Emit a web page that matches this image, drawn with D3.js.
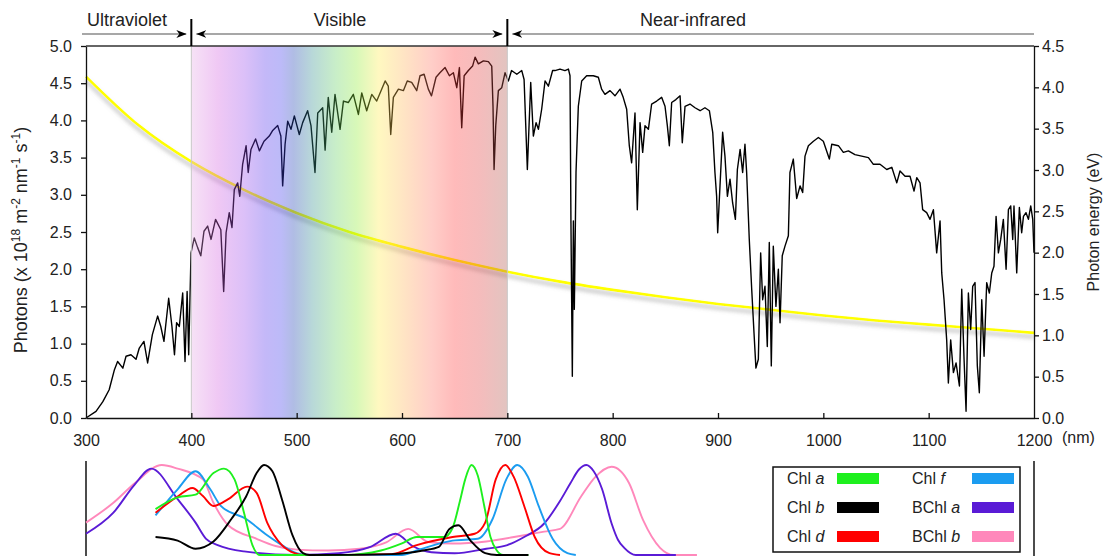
<!DOCTYPE html>
<html>
<head>
<meta charset="utf-8">
<script src="https://cdn.jsdelivr.net/npm/d3@7"></script>
<style>
    body { margin: 0; background: #fff; }
    svg { display: block; font-family: "Liberation Sans", Arial, sans-serif; }
    .tick text { font-size: 16px; fill: #222; }
</style>
</head>
<body>
<svg id="chart" width="1103" height="556"></svg>
<script>
/*global d3 */
// solar photon flux, [nm, photons x 1e18 m-2 nm-1 s-1]
var solarSpectrum = [[300,0],[309.5,0.09],[316,0.22],[322,0.38],[327,0.65],[330,0.76],[335,0.67],[338,0.83],[342.7,0.85],[347.5,0.79],[350.6,0.94],[355,1.03],[358.5,0.74],[363,1.12],[368,1.37],[371,1.23],[374,1.03],[378.5,1.61],[381.6,1.23],[384,0.85],[386,1.28],[388.6,1.23],[391.8,1.68],[394,0.76],[396,1.70],[397.5,0.85],[399.7,2.22],[402.8,2.42],[406,2.29],[409,2.18],[412,2.51],[415.5,2.58],[418.7,2.40],[423,2.67],[428,2.53],[430.7,1.70],[433,2.49],[436,2.76],[438.6,2.56],[440.8,3.07],[444,3.16],[446,2.98],[448.7,3.41],[452,3.66],[454,3.30],[456.6,3.61],[461,3.75],[464.6,3.59],[469,3.72],[474,3.79],[477,3.86],[482,3.93],[485,3.79],[486.7,3.12],[489,3.68],[491.5,3.99],[494.6,3.88],[497.8,4.06],[502.5,3.81],[505.7,3.97],[510.4,4.13],[513.6,3.93],[517.4,3.30],[520,4.10],[524.7,4.17],[527,3.6],[530,4.31],[533.3,3.84],[536.4,4.35],[541.2,3.88],[544.4,4.26],[549,4.24],[553.8,4.35],[558.6,4.08],[561.8,4.37],[566.5,4.13],[571.3,4.35],[576,4.26],[580.7,4.42],[584,4.53],[587,4.46],[589.3,3.81],[591.8,4.31],[596.6,4.42],[601.3,4.40],[605,4.53],[609.2,4.51],[614,4.40],[617.1,4.60],[621,4.62],[625,4.42],[628,4.33],[632.3,4.58],[636,4.64],[640.9,4.71],[645,4.60],[648.8,4.64],[652,4.44],[654.5,4.71],[656.7,3.90],[659,4.60],[663,4.67],[667,4.73],[669.4,4.85],[672.5,4.76],[677.3,4.80],[682,4.79],[685.2,4.73],[686.4,4.19],[687.4,3.34],[689,3.93],[691.5,4.40],[694.7,4.44],[697.8,4.64],[701,4.53],[704,4.67],[709,4.62],[713.7,4.67],[715.9,4.55],[719,3.34],[722.2,4.51],[724.7,3.79],[727.3,3.97],[729.5,3.88],[732.6,4.15],[735.8,4.53],[739,4.46],[743,4.67],[745.2,4.67],[750,4.69],[754.7,4.67],[758,4.69],[759.5,4.60],[760.4,2.62],[761.7,0.56],[762.7,2.65],[763.6,1.46],[765.2,3.30],[767.4,4.19],[770.6,4.53],[775.3,4.60],[781.6,4.60],[786.4,4.58],[789.5,4.42],[792.7,4.35],[797.5,4.40],[802.2,4.33],[807,4.42],[810,4.31],[813.3,4.15],[815.8,3.66],[818,3.43],[821.2,4.10],[823.4,2.80],[826,3.97],[828.5,3.57],[830.7,3.93],[833.9,3.88],[837,4.22],[841.8,4.26],[846.5,4.31],[849.7,4.19],[851.9,3.93],[853.8,3.66],[856,4.24],[860,4.28],[864,4.33],[866.1,3.70],[868.7,4.19],[873.4,4.22],[878.2,4.17],[883,4.13],[887.6,4.17],[891.8,4.13],[895,3.84],[897.1,3.30],[898.7,2.98],[899.7,2.49],[901.9,3.12],[904.4,3.84],[906.6,3.52],[908.9,2.98],[911.4,3.21],[913.9,2.89],[916.5,2.67],[918.4,3.34],[921,3.61],[923.4,3.30],[925.6,3.68],[927.2,3.30],[929.7,2.40],[932,1.73],[934.2,1.14],[936,0.67],[938.3,0.79],[940.5,2.22],[942.4,1.59],[944.6,1.77],[946.8,0.96],[948.7,2.36],[950.6,0.70],[952.5,2.31],[955,1.50],[957.3,2.00],[958.9,1.28],[961,2.18],[963.6,2.31],[966.8,2.45],[968.3,3.30],[971.5,3.48],[974.7,2.95],[977.9,3.12],[980.4,3.03],[982.6,3.52],[985.8,3.66],[990.6,3.72],[995.3,3.77],[1000,3.72],[1005.7,3.48],[1008,3.68],[1014.3,3.66],[1019,3.57],[1023.8,3.59],[1030,3.54],[1036.4,3.52],[1042.8,3.50],[1047.5,3.41],[1053.8,3.41],[1060.2,3.34],[1065,3.37],[1069.7,3.16],[1072.8,3.32],[1077.6,3.25],[1082.3,3.25],[1086.1,3.05],[1088.7,3.23],[1091.8,3.16],[1094.3,2.80],[1098.1,2.76],[1101.3,2.67],[1104.5,2.80],[1107.6,2.22],[1110.8,2.65],[1112.4,1.95],[1114.6,1.59],[1117.1,1.05],[1118.7,0.47],[1120.9,1.05],[1123.5,0.61],[1126,0.74],[1129.2,0.43],[1131.4,1.73],[1133.6,0.79],[1135.5,0.09],[1137.7,1.68],[1139.9,1.19],[1141.8,1.77],[1144,1.82],[1146.2,0.70],[1148.1,0.34],[1150.4,1.59],[1152.6,0.83],[1155.1,1.82],[1157.6,1.68],[1159.9,1.95],[1162,2.04],[1164,2.71],[1166.2,2.22],[1168.4,2.40],[1170.9,2.67],[1173.5,2.00],[1175.7,2.80],[1177.9,2.85],[1179.8,2.40],[1181,2.85],[1183.6,1.95],[1186.1,2.83],[1188.3,2.49],[1190,2.71],[1192.4,2.76],[1194.7,2.67],[1196.9,2.85],[1198.8,2.67],[1200,2.22]];

// photon energy, [nm, eV]
var photonEnergy = [[300,4.13],[350,3.54],[400,3.10],[450,2.76],[500,2.48],[550,2.25],[600,2.07],[650,1.91],[700,1.77],[750,1.65],[800,1.55],[850,1.46],[900,1.38],[950,1.31],[1000,1.24],[1050,1.18],[1100,1.13],[1150,1.08],[1200,1.03]];

// normalised absorption spectra, [nm, relative absorbance]
var chlA = [[366,0.51],[387,0.64],[404,0.67],[421,0.91],[431,0.96],[441,0.84],[450,0.47],[458,0.11],[465,0],[546,0],[580,0.05],[600,0.13],[614,0.2],[630,0.2],[640,0.2],[648,0.3],[655,0.6],[660,0.84],[666,1.0],[672,0.88],[678,0.55],[684,0.2],[690,0.05],[696,0],[720,0]];
var chlB = [[366,0.2],[387,0.16],[404,0.07],[421,0.15],[438,0.4],[452,0.65],[462,0.91],[469,1.0],[477,0.93],[486,0.62],[496,0.22],[506,0.02],[512,0],[590,0.01],[620,0.05],[635,0.09],[645,0.29],[653.5,0.33],[665,0.16],[679,0.02],[690,0],[720,0]];
var chlD = [[366,0.47],[387,0.65],[401,0.745],[411,0.655],[421,0.545],[435,0.62],[453,0.76],[462,0.69],[472,0.36],[486,0.11],[498,0.02],[505,0],[590,0.01],[614,0.11],[648,0.2],[669,0.236],[679,0.36],[689,0.84],[698,1.0],[706,0.87],[716,0.545],[726,0.2],[740,0.02],[750,0]];
var chlF = [[366,0.44],[387,0.73],[404,0.93],[418,0.73],[428,0.545],[452,0.4],[472,0.22],[486,0.11],[500,0.02],[510,0],[600,0],[614,0.05],[648,0.16],[672,0.18],[686,0.4],[699,0.84],[709.4,1.0],[719.5,0.87],[729.7,0.545],[743,0.18],[757,0.02],[765,0]];
var bchlA = [[300,0.236],[326,0.47],[346,0.78],[362,0.96],[387,0.62],[404,0.36],[414,0.18],[425,0.11],[450,0.04],[500,0],[540,0.02],[570,0.09],[594,0.236],[610,0.1],[628,0.03],[650,0.02],[680,0.07],[700,0.11],[716,0.2],[735,0.35],[750,0.6],[760,0.8],[768,0.95],[775,1.0],[782,0.93],[790,0.73],[799,0.35],[805,0.17],[811,0.08],[822,0],[860,0]];
var bchlB = [[300,0.36],[326,0.58],[346.5,0.8],[372,1.0],[387,0.96],[411,0.84],[421,0.58],[435,0.33],[462,0.18],[480,0.1],[500,0.06],[530,0.05],[560,0.07],[585,0.14],[606,0.29],[625,0.145],[648,0.127],[680,0.15],[716,0.22],[735,0.26],[750,0.29],[770,0.65],[783,0.86],[799,0.98],[815.5,0.8],[828.8,0.39],[845,0.08],[858,0],[880,0]];

var pigmentNames = [["Chl ", "a"], ["Chl ", "b"], ["Chl ", "d"], ["Chl ", "f"], ["BChl ", "a"], ["BChl ", "b"]];
var pigmentColors = ["#1ef01e", "#000000", "#ff0000", "#1b9cf0", "#5a1bd6", "#ff88bb"];
var pigmentSeries = [chlA, chlB, chlD, chlF, bchlA, bchlB];

var wavelengthTicks = [300, 400, 500, 600, 700, 800, 900, 1000, 1100, 1200];
var photonTicks = [0, 0.5, 1, 1.5, 2, 2.5, 3, 3.5, 4, 4.5, 5];
var energyTicks = [0, 0.5, 1, 1.5, 2, 2.5, 3, 3.5, 4, 4.5];

// colour stops of the visible band (drawn over the lines, semi transparent)
var bandStops = [[400, "#e5ace5"], [425, "#d462e0"], [450, "#9b4beb"], [470, "#5634eb"], [485, "#403aeb"], [497, "#1d40b2"],
    [515, "#349090"], [537, "#62ce62"], [557, "#8feb34"], [578, "#ffeb4b"], [602, "#ffb256"], [628, "#ff7362"],
    [650, "#ff3a3a"], [675, "#df4040"], [700, "#ac564b"]];

var svg = d3.select("#chart");
var x = d3.scaleLinear().domain([300, 1200]).range([86, 1034]);
var yPhotons = d3.scaleLinear().domain([0, 5]).range([418, 46]);
var yEnergy = d3.scaleLinear().domain([0, 4.5]).range([418, 46]);
var yAbs = d3.scaleLinear().domain([0, 1]).range([555, 465]);

var defs = svg.append("defs");

var drawAnnotations = function () {
    "use strict";
    defs.append("marker").attr("id", "head")
        .attr("viewBox", "0 0 10 8").attr("refX", 10).attr("refY", 4)
        .attr("markerWidth", 10).attr("markerHeight", 8).attr("markerUnits", "userSpaceOnUse")
        .attr("orient", "auto-start-reverse")
        .append("path").attr("d", "M0,0 L10,4 L0,8 L3,4 Z").attr("fill", "#000");

    var g = svg.append("g");
    var arrows = [
        {x1: x(300) - 4, x2: x(400) - 5, start: false, end: true},
        {x1: x(400) + 5, x2: x(700) - 5, start: true, end: true},
        {x1: x(700) + 5, x2: x(1200), start: true, end: false}
    ];
    g.selectAll("line.arrow").data(arrows).enter().append("line")
        .attr("class", "arrow")
        .attr("x1", function (d) { return d.x1; })
        .attr("x2", function (d) { return d.x2; })
        .attr("y1", 34).attr("y2", 34)
        .attr("stroke", "#8a8a8a").attr("stroke-width", 1.6)
        .attr("marker-start", function (d) { return d.start ? "url(#head)" : null; })
        .attr("marker-end", function (d) { return d.end ? "url(#head)" : null; });
    g.selectAll("line.bar").data([400, 700]).enter().append("line")
        .attr("class", "bar")
        .attr("x1", function (d) { return x(d); }).attr("x2", function (d) { return x(d); })
        .attr("y1", 19).attr("y2", 46)
        .attr("stroke", "#000").attr("stroke-width", 2);
    g.selectAll("text").data([["Ultraviolet", 127], ["Visible", 340], ["Near-infrared", 693]]).enter().append("text")
        .attr("x", function (d) { return d[1]; })
        .attr("y", 26)
        .attr("text-anchor", "middle")
        .attr("font-size", 18).attr("fill", "#222")
        .text(function (d) { return d[0]; });
};

var drawAxes = function () {
    "use strict";
    var left = svg.append("g").attr("transform", "translate(" + x.range()[0] + ",0)")
        .call(d3.axisLeft(yPhotons).tickValues(photonTicks).tickFormat(d3.format(".1f")).tickSize(5).tickSizeOuter(0).tickPadding(9));
    var right = svg.append("g").attr("transform", "translate(" + x.range()[1] + ",0)")
        .call(d3.axisRight(yEnergy).tickValues(energyTicks).tickFormat(d3.format(".1f")).tickSize(5).tickSizeOuter(0).tickPadding(3));
    var bottom = svg.append("g").attr("transform", "translate(0," + yPhotons.range()[0] + ")")
        .call(d3.axisBottom(x).tickValues(wavelengthTicks).tickFormat(d3.format("d")).tickSize(-5).tickSizeOuter(0).tickPadding(17));
    [left, right, bottom].forEach(function (a) {
        a.attr("font-family", null).attr("font-size", null);
        a.selectAll("path, line").attr("stroke", "#111").attr("stroke-width", 1.3);
    });
    bottom.selectAll(".tick").filter(function (d) { return d === 300 || d === 1200; }).select("line").remove();
    svg.append("line")
        .attr("x1", x.range()[0]).attr("x2", x.range()[1])
        .attr("y1", yPhotons.range()[1]).attr("y2", yPhotons.range()[1])
        .attr("stroke", "#333").attr("stroke-width", 1.3);

    svg.append("text").attr("x", 1062).attr("y", 443).attr("font-size", 16).attr("fill", "#222").text("(nm)");

    var lt = svg.append("text")
        .attr("transform", "translate(27,240) rotate(-90)")
        .attr("text-anchor", "middle").attr("font-size", 18).attr("fill", "#222");
    lt.append("tspan").text("Photons (x 10");
    lt.append("tspan").attr("font-size", 12).attr("dy", -7).text("18");
    lt.append("tspan").attr("dy", 7).text(" m");
    lt.append("tspan").attr("font-size", 12).attr("dy", -7).text("-2");
    lt.append("tspan").attr("dy", 7).text(" nm");
    lt.append("tspan").attr("font-size", 12).attr("dy", -7).text("-1");
    lt.append("tspan").attr("dy", 7).text(" s");
    lt.append("tspan").attr("font-size", 12).attr("dy", -7).text("-1");
    lt.append("tspan").attr("dy", 7).text(")");

    svg.append("text")
        .attr("transform", "translate(1099,222) rotate(-90)")
        .attr("text-anchor", "middle").attr("font-size", 16).attr("fill", "#222")
        .text("Photon energy (eV)");
};

var drawTopPanel = function () {
    "use strict";
    var shadow = defs.append("filter").attr("id", "shadow")
        .attr("x", "-5%").attr("y", "-50%").attr("width", "110%").attr("height", "200%");
    shadow.append("feDropShadow").attr("dx", 0).attr("dy", 4).attr("stdDeviation", 2.2)
        .attr("flood-color", "#777").attr("flood-opacity", 0.55);

    svg.append("path").datum(photonEnergy)
        .attr("d", d3.line().x(function (d) { return x(d[0]); }).y(function (d) { return yEnergy(d[1]); }).curve(d3.curveMonotoneX))
        .attr("fill", "none").attr("stroke", "#ffff00").attr("stroke-width", 2.6)
        .attr("filter", "url(#shadow)");

    svg.append("path").datum(solarSpectrum)
        .attr("d", d3.line().x(function (d) { return x(d[0]); }).y(function (d) { return yPhotons(d[1]); }))
        .attr("fill", "none").attr("stroke", "#000").attr("stroke-width", 1.4).attr("stroke-linejoin", "round");

    var grad = defs.append("linearGradient").attr("id", "band")
        .attr("x1", 0).attr("x2", 1).attr("y1", 0).attr("y2", 0);
    grad.selectAll("stop").data(bandStops).enter().append("stop")
        .attr("offset", function (d) { return (d[0] - 400) / 300; })
        .attr("stop-color", function (d) { return d[1]; });
    svg.append("rect")
        .attr("x", x(400)).attr("width", x(700) - x(400))
        .attr("y", yPhotons(5)).attr("height", yPhotons(0) - yPhotons(5))
        .attr("fill", "url(#band)").attr("fill-opacity", 0.35);
    svg.selectAll("line.edge").data([400, 700]).enter().append("line")
        .attr("class", "edge")
        .attr("x1", function (d) { return x(d); }).attr("x2", function (d) { return x(d); })
        .attr("y1", yPhotons(5)).attr("y2", yPhotons(0))
        .attr("stroke", "#c8c8c8").attr("stroke-width", 1);
};

var drawBottomPanel = function () {
    "use strict";
    var g = svg.append("g");
    g.selectAll("line.side").data([x.range()[0], x.range()[1]]).enter().append("line")
        .attr("class", "side")
        .attr("x1", function (d) { return d; }).attr("x2", function (d) { return d; })
        .attr("y1", 461).attr("y2", 556)
        .attr("stroke", "#111").attr("stroke-width", 1.5);
    var line = d3.line().x(function (d) { return x(d[0]); }).y(function (d) { return yAbs(d[1]); }).curve(d3.curveMonotoneX);
    var order = [5, 4, 3, 2, 0, 1];
    g.selectAll("path.abs").data(order).enter().append("path")
        .attr("class", "abs")
        .attr("d", function (i) { return line(pigmentSeries[i]); })
        .attr("fill", "none")
        .attr("stroke", function (i) { return pigmentColors[i]; })
        .attr("stroke-width", 1.9);

    var lg = svg.append("g");
    lg.append("rect").attr("x", 773).attr("y", 467).attr("width", 247).attr("height", 85)
        .attr("fill", "#fff").attr("stroke", "#111").attr("stroke-width", 1.5);
    var item = lg.selectAll("g.item").data(pigmentNames).enter().append("g")
        .attr("class", "item")
        .attr("transform", function (d, i) { return "translate(" + (i < 3 ? 787 : 912) + "," + (478 + (i % 3) * 29) + ")"; });
    var t = item.append("text").attr("y", 6).attr("font-size", 16).attr("fill", "#222");
    t.append("tspan").text(function (d) { return d[0]; });
    t.append("tspan").attr("font-style", "italic").text(function (d) { return d[1]; });
    item.append("rect")
        .attr("x", function (d, i) { return i < 3 ? 50 : 60; })
        .attr("y", -5).attr("width", 42).attr("height", 11)
        .attr("fill", function (d, i) { return pigmentColors[i]; });
};

drawTopPanel();
drawAxes();
drawAnnotations();
drawBottomPanel();
</script>
</body>
</html>
